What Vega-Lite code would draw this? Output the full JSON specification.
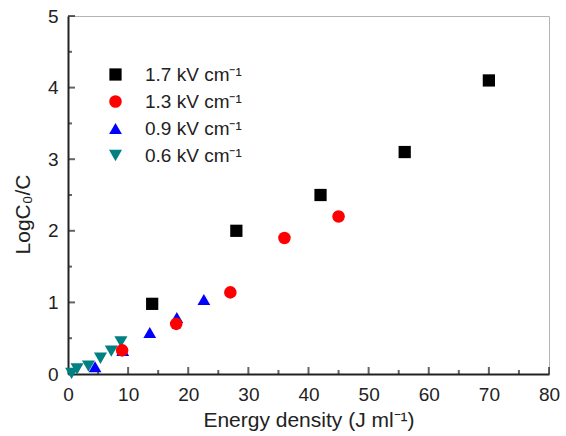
{
  "$schema": "https://vega.github.io/schema/vega-lite/v6.json",
  "width": 481,
  "height": 358,
  "autosize": {"type": "none"},
  "padding": {"left": 68, "top": 16, "right": 17, "bottom": 62},
  "background": "white",
  "config": {
    "view": {"stroke": "#b4b4b4", "strokeWidth": 1},
    "font": "Liberation Sans"
  },
  "datasets": {
    "points": [
      {"field": "0.6 kV cm⁻¹", "energy": 0.6, "logc": 0.01},
      {"field": "0.6 kV cm⁻¹", "energy": 1.5, "logc": 0.07},
      {"field": "0.6 kV cm⁻¹", "energy": 3.4, "logc": 0.11},
      {"field": "0.6 kV cm⁻¹", "energy": 5.4, "logc": 0.22},
      {"field": "0.6 kV cm⁻¹", "energy": 7.2, "logc": 0.32},
      {"field": "0.6 kV cm⁻¹", "energy": 8.8, "logc": 0.45},
      {"field": "0.9 kV cm⁻¹", "energy": 4.5, "logc": 0.1},
      {"field": "0.9 kV cm⁻¹", "energy": 9.1, "logc": 0.33},
      {"field": "0.9 kV cm⁻¹", "energy": 13.6, "logc": 0.58},
      {"field": "0.9 kV cm⁻¹", "energy": 18.1, "logc": 0.79},
      {"field": "0.9 kV cm⁻¹", "energy": 22.6, "logc": 1.04},
      {"field": "1.3 kV cm⁻¹", "energy": 9.0, "logc": 0.33},
      {"field": "1.3 kV cm⁻¹", "energy": 18.0, "logc": 0.7},
      {"field": "1.3 kV cm⁻¹", "energy": 27.0, "logc": 1.14},
      {"field": "1.3 kV cm⁻¹", "energy": 36.0, "logc": 1.9},
      {"field": "1.3 kV cm⁻¹", "energy": 45.0, "logc": 2.2},
      {"field": "1.7 kV cm⁻¹", "energy": 14.0, "logc": 0.98},
      {"field": "1.7 kV cm⁻¹", "energy": 28.0, "logc": 2.0},
      {"field": "1.7 kV cm⁻¹", "energy": 42.0, "logc": 2.5},
      {"field": "1.7 kV cm⁻¹", "energy": 56.0, "logc": 3.1},
      {"field": "1.7 kV cm⁻¹", "energy": 70.0, "logc": 4.1}
    ],
    "xMajor": [{"v": 10}, {"v": 20}, {"v": 30}, {"v": 40}, {"v": 50}, {"v": 60}, {"v": 70}, {"v": 80}],
    "xMinor": [{"v": 5}, {"v": 15}, {"v": 25}, {"v": 35}, {"v": 45}, {"v": 55}, {"v": 65}, {"v": 75}],
    "yMajor": [{"v": 1}, {"v": 2}, {"v": 3}, {"v": 4}, {"v": 5}],
    "yMinor": [{"v": 0.5}, {"v": 1.5}, {"v": 2.5}, {"v": 3.5}, {"v": 4.5}]
  },
  "layer": [
    {
      "data": {"name": "xMajor"},
      "mark": {"type": "tick", "orient": "vertical", "size": 7, "thickness": 2, "color": "#222", "yOffset": -3.5},
      "encoding": {
        "x": {"field": "v", "type": "quantitative"},
        "y": {"datum": 0, "type": "quantitative"}
      }
    },
    {
      "data": {"name": "xMinor"},
      "mark": {"type": "tick", "orient": "vertical", "size": 4, "thickness": 2, "color": "#222", "yOffset": -2},
      "encoding": {
        "x": {"field": "v", "type": "quantitative"},
        "y": {"datum": 0, "type": "quantitative"}
      }
    },
    {
      "data": {"name": "yMajor"},
      "mark": {"type": "tick", "orient": "horizontal", "size": 7, "thickness": 2, "color": "#222", "xOffset": 3.5},
      "encoding": {
        "y": {"field": "v", "type": "quantitative"},
        "x": {"datum": 0, "type": "quantitative"}
      }
    },
    {
      "data": {"name": "yMinor"},
      "mark": {"type": "tick", "orient": "horizontal", "size": 4, "thickness": 2, "color": "#222", "xOffset": 2},
      "encoding": {
        "y": {"field": "v", "type": "quantitative"},
        "x": {"datum": 0, "type": "quantitative"}
      }
    },
    {
      "data": {"name": "points"},
      "mark": {"type": "point", "filled": true, "opacity": 1},
      "encoding": {
        "x": {
          "field": "energy",
          "type": "quantitative",
          "scale": {"domain": [0, 80], "nice": false, "zero": true},
          "axis": {
            "title": "Energy density (J ml⁻¹)",
            "titleFontSize": 21,
            "titleFontWeight": "normal",
            "titleColor": "#222",
            "titlePadding": 5,
            "values": [0, 10, 20, 30, 40, 50, 60, 70, 80],
            "format": "d",
            "labelFontSize": 19,
            "labelColor": "#222",
            "labelPadding": 11,
            "labelFlush": false,
            "ticks": false,
            "domainColor": "#222",
            "domainWidth": 2,
            "grid": false
          }
        },
        "y": {
          "field": "logc",
          "type": "quantitative",
          "scale": {"domain": [0, 5], "nice": false},
          "axis": {
            "title": "LogC₀/C",
            "titleFontSize": 21,
            "titleFontWeight": "normal",
            "titleColor": "#222",
            "titleX": -35,
            "titleY": 198,
            "values": [0, 1, 2, 3, 4, 5],
            "format": "d",
            "labelFontSize": 19,
            "labelColor": "#222",
            "labelPadding": 10,
            "labelFlush": false,
            "ticks": false,
            "domainColor": "#222",
            "domainWidth": 2,
            "grid": false
          }
        },
        "color": {
          "field": "field",
          "type": "nominal",
          "scale": {
            "domain": ["1.7 kV cm⁻¹", "1.3 kV cm⁻¹", "0.9 kV cm⁻¹", "0.6 kV cm⁻¹"],
            "range": ["#000000", "#ff0000", "#0000ff", "#008080"]
          },
          "legend": {
            "title": null,
            "orient": "none",
            "legendX": 38,
            "legendY": 49,
            "labelFontSize": 19,
            "labelColor": "#222",
            "labelOffset": 20,
            "symbolSize": 100,
            "symbolOpacity": 1,
            "rowPadding": 7,
            "padding": 0
          }
        },
        "shape": {
          "field": "field",
          "type": "nominal",
          "scale": {
            "domain": ["1.7 kV cm⁻¹", "1.3 kV cm⁻¹", "0.9 kV cm⁻¹", "0.6 kV cm⁻¹"],
            "range": ["square", "circle", "triangle-up", "triangle-down"]
          },
          "legend": null
        },
        "size": {
          "field": "field",
          "type": "nominal",
          "scale": {
            "domain": ["1.7 kV cm⁻¹", "1.3 kV cm⁻¹", "0.9 kV cm⁻¹", "0.6 kV cm⁻¹"],
            "range": [150, 170, 230, 230]
          },
          "legend": null
        }
      }
    }
  ]
}
